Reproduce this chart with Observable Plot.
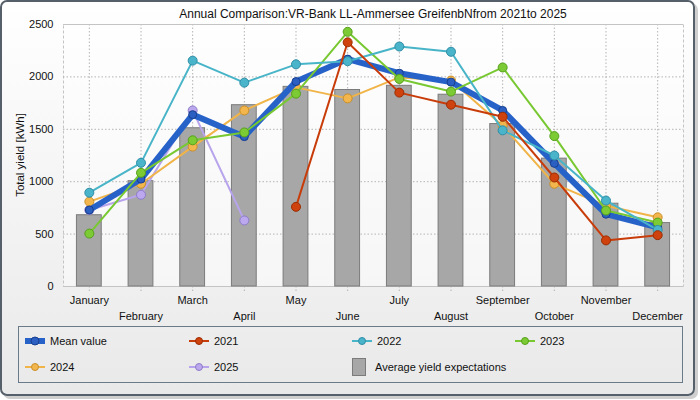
<!DOCTYPE html>
<html>
<head>
<meta charset="utf-8">
<script src="https://cdn.jsdelivr.net/npm/d3@7"></script>
<script src="https://cdn.jsdelivr.net/npm/@observablehq/plot@0.6"></script>
<style>
  body { margin: 0; background: #ffffff; font-family: "Liberation Sans", Arial, sans-serif; }
  #frame { position: absolute; left: 0; top: 0; width: 691px; height: 392px; border: 2px solid #56606a; border-radius: 7px;
           background: linear-gradient(#ffffff, #e9e9e9); box-shadow: 3px 3px 0 #cfcfcf; }
  #chart { position: absolute; left: 0; top: 0; }
  #title { position: absolute; left: 63px; top: 7px; width: 620px; text-align: center; font-size: 12px; color: #111; white-space: pre; }
  #ylabel { position: absolute; left: 20px; top: 155px; transform: translate(-50%, -50%) rotate(-90deg); font-size: 11.5px; color: #111; white-space: nowrap; }
  #legend { position: absolute; left: 18px; top: 326px; width: 663px; height: 55px; border: 1px solid #6b7a88; }
  .item { position: absolute; font-size: 11px; color: #111; display: flex; align-items: center; white-space: nowrap; }
  .item svg { margin-right: 4px; }
</style>
</head>
<body>
<div id="frame"></div>
<div id="chart"></div>
<div id="title">Annual Comparison:VR-Bank LL-Ammersee GreifenbNfrom 2021to 2025</div>
<div id="ylabel">Total yield [kWh]</div>
<div id="legend"></div>
<script>
const months = ["January","February","March","April","May","June","July","August","September","October","November","December"];
const yTicks = [0, 500, 1000, 1500, 2000, 2500];

const avgExpectation = [680, 1005, 1510, 1730, 1905, 1875, 1915, 1830, 1550, 1220, 790, 605];
const meanValue = [730, 1025, 1640, 1430, 1955, 2170, 2035, 1950, 1680, 1175, 690, 565];
const y2021 = [null, null, null, null, 760, 2330, 1850, 1735, 1620, 1040, 440, 490];
const y2022 = [895, 1180, 2155, 1945, 2120, 2150, 2290, 2240, 1490, 1250, 820, 540];
const y2023 = [505, 1085, 1395, 1470, 1840, 2430, 1980, 1860, 2090, 1435, 725, 610];
const y2024 = [810, 980, 1335, 1680, 1900, 1795, 1995, 1965, 1535, 980, 770, 660];
const y2025 = [730, 875, 1680, 630, null, null, null, null, null, null, null, null];

// drawing order (bottom to top)
const series = [
  {name: "2025", values: y2025, line: "#b8a4ec", fill: "#bba8ee", edge: "#8e7cc8", width: 2, r: 4.5},
  {name: "2024", values: y2024, line: "#f0b448", fill: "#f2b64c", edge: "#c98f2a", width: 2, r: 4.5},
  {name: "Mean value", values: meanValue, line: "#2762c9", fill: "#2c5fc2", edge: "#183f8f", width: 6, r: 4},
  {name: "2023", values: y2023, line: "#78c832", fill: "#7cca34", edge: "#57a01c", width: 2, r: 4.5},
  {name: "2022", values: y2022, line: "#48b4c8", fill: "#4ab4ca", edge: "#2f8ea6", width: 2, r: 4.5},
  {name: "2021", values: y2021, line: "#c83c0a", fill: "#cf420e", edge: "#9a2c02", width: 2, r: 4.5}
];

const rows = s => months.map((m, i) => ({month: m, value: s.values[i]})).filter(d => d.value != null);
const barRows = months.map((m, i) => ({month: m, value: avgExpectation[i]}));

const seriesMarks = series.flatMap(s => [
  Plot.line(rows(s), {x: "month", y: "value", stroke: s.line, strokeWidth: s.width, strokeLinejoin: "round"}),
  Plot.dot(rows(s), {x: "month", y: "value", r: s.r, fill: s.fill, stroke: s.edge, strokeWidth: 1})
]);

const chart = Plot.plot({
  width: 700,
  height: 325,
  marginTop: 24,
  marginBottom: 39,
  marginLeft: 63,
  marginRight: 17,
  style: {background: "transparent", fontFamily: "Liberation Sans, Arial, sans-serif", fontSize: "11px", color: "#111"},
  x: {type: "band", domain: months, paddingInner: 0.52, paddingOuter: 0.26, round: false, axis: null},
  y: {domain: [0, 2500], axis: null},
  marks: [
    Plot.frame({fill: "#ffffff", fillOpacity: 0.45, stroke: "#c4c4c4", strokeDasharray: "3,2"}),
    Plot.gridY({ticks: yTicks.slice(1, -1), stroke: "#b4b4b4", strokeOpacity: 1, strokeDasharray: "1.5,2"}),
    Plot.gridX({stroke: "#b4b4b4", strokeOpacity: 1, strokeDasharray: "1.5,2"}),
    Plot.ruleX(months, {x: d => d, y1: 0, y2: -60, stroke: "#b4b4b4", strokeDasharray: "1.5,2"}),
    Plot.ruleY([yTicks[0], yTicks[yTicks.length - 1]], {stroke: "#c4c4c4", strokeWidth: 1.2}),
    Plot.barY(barRows, {x: "month", y: "value", fill: "#a7a7a7", stroke: "#7b7b7b", strokeWidth: 1}),
    ...seriesMarks,
    Plot.axisY({ticks: yTicks, tickSize: 0, tickPadding: 10, tickFormat: d => String(d), fontSize: 11, label: null}),
    Plot.text(months.filter((d, i) => i % 2 === 0), {x: d => d, text: d => d, frameAnchor: "bottom", lineAnchor: "middle", dy: 14, fontSize: 11, fill: "#111"}),
    Plot.text(months.filter((d, i) => i % 2 === 1), {x: d => d, text: d => d, frameAnchor: "bottom", lineAnchor: "middle", dy: 30, fontSize: 11, fill: "#111"})
  ]
});
document.getElementById("chart").appendChild(chart);

// Legend
const legendOrder = ["Mean value", "2021", "2022", "2023", "2024", "2025"];
const colX = [5, 169, 332, 495];
const rowY = [14, 40];
const legend = document.getElementById("legend");
legendOrder.forEach((name, k) => {
  const s = series.find(d => d.name === name);
  const div = document.createElement("div");
  div.className = "item";
  div.style.left = colX[k % 4] + "px";
  div.style.top = (rowY[Math.floor(k / 4)] - 8) + "px";
  const sw = name === "Mean value" ? 6 : 2;
  div.innerHTML = `<svg width="22" height="16"><line x1="1" x2="21" y1="8" y2="8" stroke="${s.line}" stroke-width="${sw}"/><circle cx="11" cy="8" r="${name === "Mean value" ? 4 : 3.5}" fill="${s.fill}" stroke="${s.edge}"/></svg><span>${name}</span>`;
  legend.appendChild(div);
});
const bdiv = document.createElement("div");
bdiv.className = "item";
bdiv.style.left = colX[2] + "px";
bdiv.style.top = (rowY[1] - 9) + "px";
bdiv.innerHTML = `<svg width="16" height="18" style="margin-right:8px"><rect x="1.5" y="0.5" width="13" height="17" fill="#a7a7a7" stroke="#7b7b7b"/></svg><span>Average yield expectations</span>`;
legend.appendChild(bdiv);
</script>
</body>
</html>
